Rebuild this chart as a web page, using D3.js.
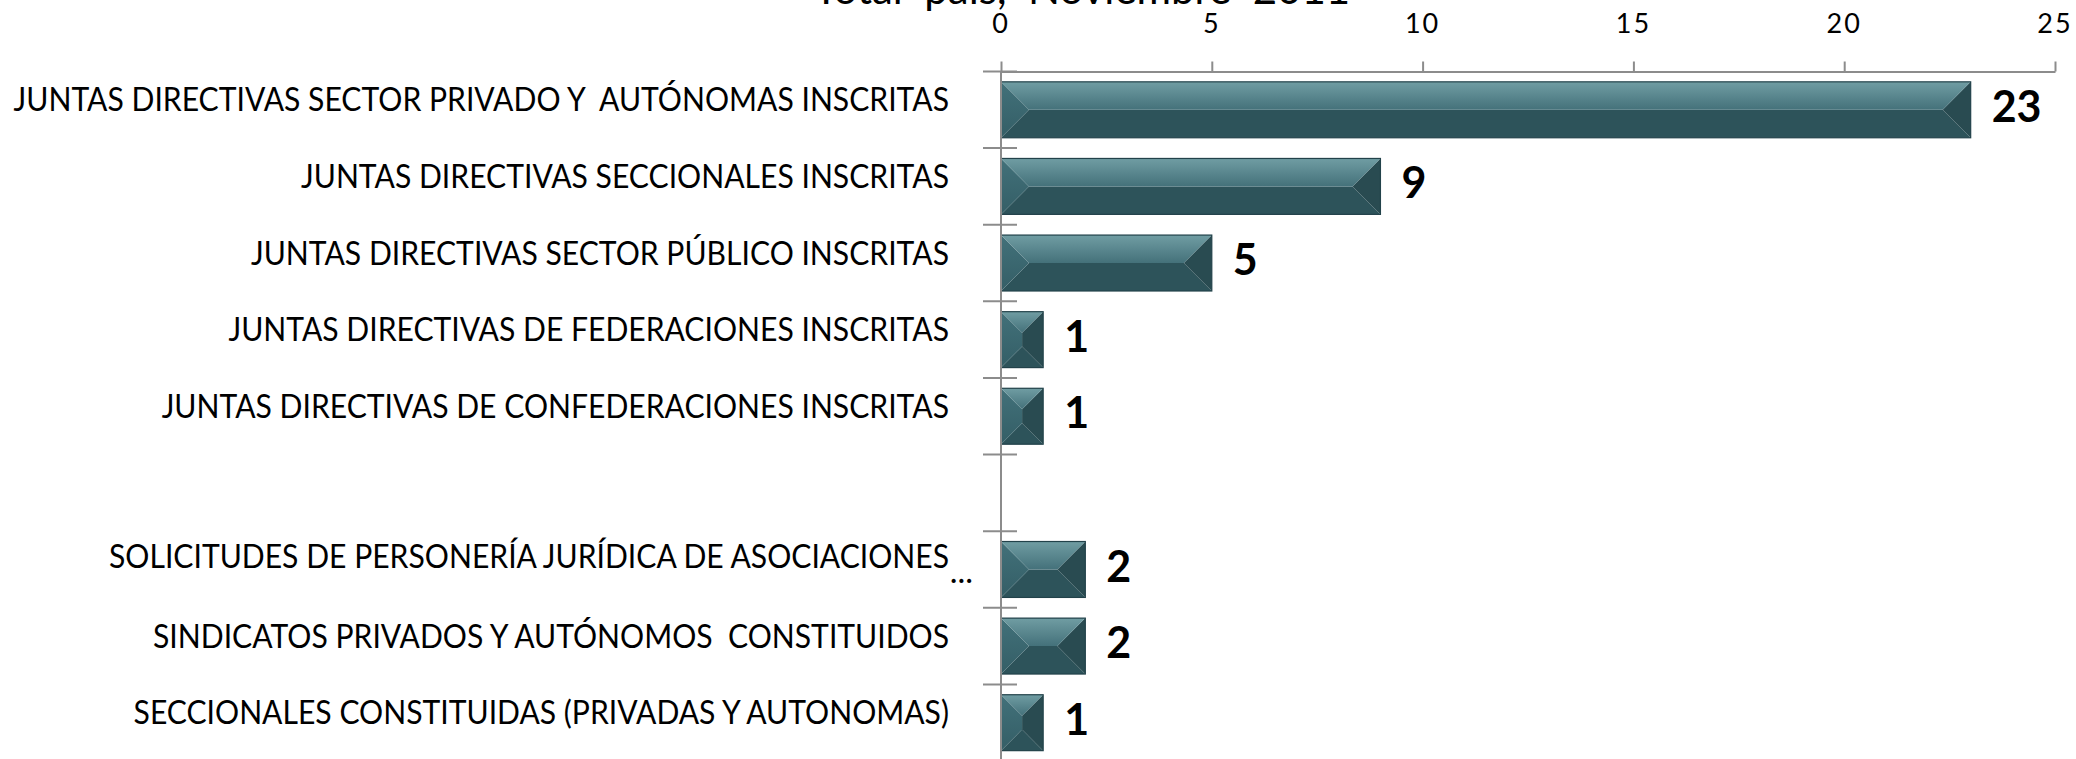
<!DOCTYPE html>
<html>
<head>
<meta charset="utf-8">
<script src="https://cdn.jsdelivr.net/npm/d3@7"></script>
<style>
  body { margin: 0; background: #ffffff; }
  svg { display: block; }
</style>
</head>
<body>
<svg id="plotCanvas" width="2076" height="759"></svg>
<script>
// chart data
var categories = [
   "JUNTAS DIRECTIVAS SECTOR PRIVADO Y  AUTÓNOMAS INSCRITAS",
   "JUNTAS DIRECTIVAS SECCIONALES INSCRITAS",
   "JUNTAS DIRECTIVAS SECTOR PÚBLICO INSCRITAS",
   "JUNTAS DIRECTIVAS DE FEDERACIONES INSCRITAS",
   "JUNTAS DIRECTIVAS DE CONFEDERACIONES INSCRITAS",
   "",
   "SOLICITUDES DE PERSONERÍA JURÍDICA DE ASOCIACIONES",
   "SINDICATOS PRIVADOS Y AUTÓNOMOS  CONSTITUIDOS",
   "SECCIONALES CONSTITUIDAS (PRIVADAS Y AUTONOMAS)"
];
var values = [23, 9, 5, 1, 1, null, 2, 2, 1];
var truncated = [false, false, false, false, false, false, true, false, false];
var xTicks = [0, 5, 10, 15, 20, 25];
var title = "Total  país,  Noviembre  2011";

var plotLeft = 1001;
var plotRight = 2055;
var plotTop = 71.5;
var plotBottom = 761;

var fontFamily = "Lato, 'Open Sans', sans-serif";
var axisColor = "#8c8c8c";

var canvas = d3.select("#plotCanvas");

var x = d3.scaleLinear()
        .domain([0, 25])
        .range([plotLeft, plotRight]);

var y = d3.scaleBand()
        .domain(d3.range(categories.length))
        .range([plotTop, plotBottom])
        .paddingInner(0.27)
        .paddingOuter(0.135);

//boundaries between categories, used for the crossing ticks
var yEdge = d3.scaleLinear()
        .domain([0, categories.length])
        .range([plotTop, plotBottom]);

//gradients for the bevel faces
var defs = canvas.append("defs");
var topGrad = defs.append("linearGradient")
        .attr("id", "topFace")
        .attr("x1", 0).attr("y1", 0)
        .attr("x2", 0).attr("y2", 1);
topGrad.append("stop").attr("offset", "0%").attr("stop-color", "#709da3");
topGrad.append("stop").attr("offset", "100%").attr("stop-color", "#44717a");

var leftGrad = defs.append("linearGradient")
        .attr("id", "leftFace")
        .attr("x1", 0).attr("y1", 0)
        .attr("x2", 0).attr("y2", 1);
leftGrad.append("stop").attr("offset", "0%").attr("stop-color", "#42717a");
leftGrad.append("stop").attr("offset", "100%").attr("stop-color", "#345e66");

//title, cut by the top edge like in the original
canvas.append("text")
        .attr("x", 1082)
        .attr("y", 4)
        .attr("text-anchor", "middle")
        .attr("font-family", fontFamily)
        .attr("font-size", "42px")
        .attr("fill", "black")
        .style("white-space", "pre")
        .text(title);

//top value axis
var xAxis = d3.axisTop(x)
        .tickValues(xTicks)
        .tickSizeInner(10)
        .tickSizeOuter(0)
        .tickFormat("");

var xAxisG = canvas.append("g")
        .attr("transform", "translate(0," + plotTop + ")")
        .call(xAxis);
xAxisG.selectAll("path, line")
        .attr("stroke", axisColor)
        .attr("stroke-width", 2);

canvas.selectAll(".xLabel")
        .data(xTicks)
        .enter()
        .append("text")
        .attr("class", "xLabel")
        .attr("x", function(d) { return x(d); })
        .attr("y", 33)
        .attr("text-anchor", "middle")
        .attr("font-family", fontFamily)
        .attr("font-size", "27px")
        .attr("letter-spacing", "2px")
        .attr("fill", "black")
        .text(function(d) { return d; });

//bars with a bevel: four faces around a (maybe empty) middle
var barData = values.map(function(v, i) { return {v: v, i: i}; })
        .filter(function(d) { return d.v != null; });

var bars = canvas.selectAll(".bar")
        .data(barData)
        .enter()
        .append("g")
        .attr("class", "bar");

function face(d, which)
{
   var x0 = x(0), x1 = x(d.v);
   var y0 = y(d.i), h = y.bandwidth(), y1 = y0 + h;
   var b = Math.min(x1 - x0, h) / 2;
   var pts;
   if (which == "top")
      pts = [[x0, y0], [x1, y0], [x1 - b, y0 + b], [x0 + b, y0 + b]];
   else if (which == "bottom")
      pts = [[x0, y1], [x1, y1], [x1 - b, y1 - b], [x0 + b, y1 - b]];
   else if (which == "left")
      pts = [[x0, y0], [x0 + b, y0 + b], [x0 + b, y1 - b], [x0, y1]];
   else if (which == "right")
      pts = [[x1, y0], [x1 - b, y0 + b], [x1 - b, y1 - b], [x1, y1]];
   else
      pts = [[x0 + b, y0 + b], [x1 - b, y0 + b], [x1 - b, y1 - b], [x0 + b, y1 - b]];
   return pts.map(function(p) { return p.join(","); }).join(" ");
}

bars.append("polygon").attr("points", function(d) { return face(d, "middle"); }).attr("fill", "#33595f");
bars.append("polygon").attr("points", function(d) { return face(d, "bottom"); }).attr("fill", "#2d535a");
bars.append("polygon").attr("points", function(d) { return face(d, "right"); }).attr("fill", "#294b51");
bars.append("polygon").attr("points", function(d) { return face(d, "left"); }).attr("fill", "url(#leftFace)");
bars.append("polygon").attr("points", function(d) { return face(d, "top"); }).attr("fill", "url(#topFace)");

bars.append("rect")
        .attr("x", x(0))
        .attr("y", function(d) { return y(d.i); })
        .attr("width", function(d) { return x(d.v) - x(0); })
        .attr("height", y.bandwidth())
        .attr("fill", "none")
        .attr("stroke", "#22424a")
        .attr("stroke-width", 1.2);

//value labels
canvas.selectAll(".valueLabel")
        .data(barData)
        .enter()
        .append("text")
        .attr("class", "valueLabel")
        .attr("x", function(d) { return x(d.v) + 21; })
        .attr("y", function(d) { return y(d.i) + y.bandwidth() / 2 - 3; })
        .attr("dy", "0.35em")
        .attr("font-family", fontFamily)
        .attr("font-weight", "bold")
        .attr("font-size", "43px")
        .attr("fill", "black")
        .text(function(d) { return d.v; });

//left category axis: line plus ticks crossing it at each boundary
canvas.append("line")
        .attr("x1", plotLeft).attr("x2", plotLeft)
        .attr("y1", plotTop).attr("y2", plotBottom)
        .attr("stroke", axisColor)
        .attr("stroke-width", 2);

canvas.selectAll(".catTick")
        .data(d3.range(categories.length + 1))
        .enter()
        .append("line")
        .attr("class", "catTick")
        .attr("x1", plotLeft - 18).attr("x2", plotLeft + 16)
        .attr("y1", function(d) { return yEdge(d); })
        .attr("y2", function(d) { return yEdge(d); })
        .attr("stroke", axisColor)
        .attr("stroke-width", 2);

//category labels, right aligned left of the axis
var labelRight = 949;
var labelSize = 33;
var catLabels = canvas.selectAll(".catLabel")
        .data(categories.map(function(c, i) { return {c: c, i: i}; }))
        .enter()
        .append("text")
        .attr("class", "catLabel")
        .attr("x", 0)
        .attr("y", 0)
        .attr("dy", "0.35em")
        .attr("text-anchor", "end")
        .attr("font-family", fontFamily)
        .attr("font-size", labelSize + "px")
        .attr("fill", "black")
        .style("white-space", "pre")
        .text(function(d) { return d.c; });

//the original font is narrower; squeeze so the longest label spans the same width
var longest = 0;
catLabels.each(function() { longest = Math.max(longest, this.getComputedTextLength()); });
var squeeze = Math.min(1, 936 / longest);
catLabels.attr("transform", function(d) {
   var ly = y(d.i) + y.bandwidth() / 2 - (truncated[d.i] ? 13 : 10);
   return "translate(" + labelRight + "," + ly + ") scale(" + squeeze + ",1)";
});

//excel puts its ellipsis on a line of its own
canvas.selectAll(".ellipsis")
        .data(categories.map(function(c, i) { return i; }).filter(function(i) { return truncated[i]; }))
        .enter()
        .append("text")
        .attr("class", "ellipsis")
        .attr("x", 973)
        .attr("y", function(i) { return y(i) + y.bandwidth() / 2 + 14; })
        .attr("text-anchor", "end")
        .attr("font-family", fontFamily)
        .attr("font-size", labelSize + "px")
        .attr("fill", "black")
        .text("...");
</script>
</body>
</html>
